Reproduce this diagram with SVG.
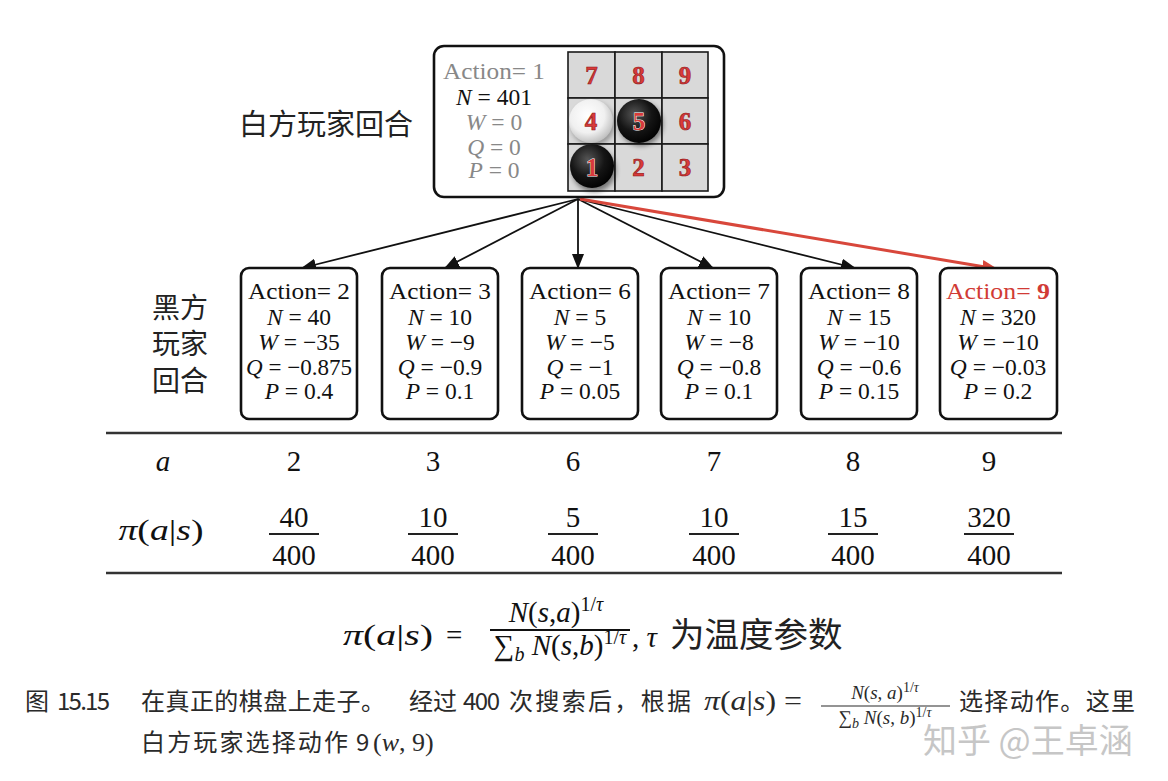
<svg xmlns="http://www.w3.org/2000/svg" width="1168" height="781" viewBox="0 0 1168 781">
<style>
.t{font-family:"Liberation Serif",serif;font-size:23.5px;text-anchor:middle;fill:#111}
.g{fill:#888}
.i{font-style:italic}
.cjk{font-family:"Noto Sans CJK SC",sans-serif;fill:#222}
.cap{font-family:"Noto Sans CJK SC",sans-serif;font-size:24px;fill:#2a2a2a}
.cm{font-family:"Liberation Serif",serif;fill:#2a2a2a}
.box{fill:#fff;stroke:#111;stroke-width:2.6}
.cell{fill:#d9d9d9;stroke:#1a1a1a;stroke-width:1.6}
.bn{font-family:"Liberation Serif",serif;font-weight:bold;font-size:25px;text-anchor:middle;fill:#d83a3a;stroke:#8c1414;stroke-width:0.6}
.bw{stroke:#ffffff;stroke-width:0.9;paint-order:stroke}
.arr{stroke:#111;stroke-width:1.8;fill:none;marker-end:url(#ah)}
.arrR{stroke:#d8473b;stroke-width:3;fill:none;marker-end:url(#ahR)}
.rule{stroke:#333;stroke-width:2.4}
.fl{stroke:#222;stroke-width:2}
.n{font-family:"Liberation Serif",serif;font-size:29px;text-anchor:middle;fill:#111}
</style>
<defs>
<marker id="ah" markerWidth="15" markerHeight="12" refX="14" refY="6" orient="auto" markerUnits="userSpaceOnUse"><path d="M0,0 L15,6 L0,12 z" fill="#111"/></marker>
<marker id="ahR" markerWidth="16" markerHeight="13" refX="15" refY="6.5" orient="auto" markerUnits="userSpaceOnUse"><path d="M0,0 L16,6.5 L0,13 z" fill="#d8473b"/></marker>
<radialGradient id="gw" cx="0.42" cy="0.38" r="0.65"><stop offset="0" stop-color="#ffffff"/><stop offset="0.6" stop-color="#f0f0f0"/><stop offset="1" stop-color="#bcbcbc"/></radialGradient>
<radialGradient id="gb" cx="0.4" cy="0.35" r="0.7"><stop offset="0" stop-color="#555"/><stop offset="0.55" stop-color="#151515"/><stop offset="1" stop-color="#000"/></radialGradient>
<filter id="sh" x="-50%" y="-50%" width="200%" height="200%"><feGaussianBlur stdDeviation="2.5"/></filter>
</defs>

<g id="connectors">
<line class="arr" x1="578" y1="199" x2="302" y2="268"/>
<line class="arr" x1="578" y1="199" x2="445" y2="268"/>
<line class="arr" x1="578" y1="199" x2="578" y2="268"/>
<line class="arr" x1="578" y1="199" x2="713" y2="268"/>
<line class="arr" x1="578" y1="199" x2="855" y2="268"/>
<line class="arrR" x1="580" y1="199" x2="997" y2="269"/>
</g>

<g id="label-white">
<text class="cjk" x="239" y="135" font-size="29">白方玩家回合</text>
</g>

<g id="root">
<rect class="box" x="434" y="46" width="290" height="151" rx="10"/>
<text class="t g" x="494" y="79" textLength="102" lengthAdjust="spacingAndGlyphs">Action= 1</text>
<text class="t" x="494" y="105"><tspan class="i">N</tspan> = 401</text>
<text class="t g" x="494" y="130"><tspan class="i">W</tspan> = 0</text>
<text class="t g" x="494" y="155"><tspan class="i">Q</tspan> = 0</text>
<text class="t g" x="494" y="178"><tspan class="i">P</tspan> = 0</text>
<g id="board">
<rect class="cell" x="568" y="52" width="47" height="46"/>
<rect class="cell" x="615" y="52" width="47" height="46"/>
<rect class="cell" x="662" y="52" width="46" height="46"/>
<rect class="cell" x="568" y="98" width="47" height="46"/>
<rect class="cell" x="615" y="98" width="47" height="46"/>
<rect class="cell" x="662" y="98" width="46" height="46"/>
<rect class="cell" x="568" y="144" width="47" height="47"/>
<rect class="cell" x="615" y="144" width="47" height="47"/>
<rect class="cell" x="662" y="144" width="46" height="47"/>
<circle cx="593" cy="124" r="22" fill="#000" opacity="0.3" filter="url(#sh)"/>
<circle cx="641" cy="124" r="22" fill="#000" opacity="0.45" filter="url(#sh)"/>
<circle cx="594" cy="170" r="22" fill="#000" opacity="0.45" filter="url(#sh)"/>
<circle cx="591" cy="121" r="22" fill="url(#gw)"/>
<circle cx="639" cy="121" r="22" fill="url(#gb)"/>
<circle cx="592" cy="166" r="22" fill="url(#gb)"/>
<text class="bn" x="591.5" y="84">7</text>
<text class="bn" x="638.5" y="84">8</text>
<text class="bn" x="685" y="84">9</text>
<text class="bn" x="591" y="130">4</text>
<text class="bn bw" x="639" y="130">5</text>
<text class="bn" x="685" y="130">6</text>
<text class="bn bw" x="592" y="176">1</text>
<text class="bn" x="638.5" y="176">2</text>
<text class="bn" x="685" y="176">3</text>
</g>
</g>

<g id="label-black">
<text class="cjk" x="152" y="318" font-size="28">黑方</text>
<text class="cjk" x="152" y="354" font-size="28">玩家</text>
<text class="cjk" x="152" y="391" font-size="28">回合</text>
</g>

<g id="a2">
<rect class="box" x="241" y="268" width="116" height="151" rx="8"/>
<text class="t" x="299" y="299" textLength="102" lengthAdjust="spacingAndGlyphs">Action= 2</text>
<text class="t" x="299" y="325"><tspan class="i">N</tspan> = 40</text>
<text class="t" x="299" y="350"><tspan class="i">W</tspan> = −35</text>
<text class="t" x="299" y="375" textLength="106" lengthAdjust="spacingAndGlyphs"><tspan class="i">Q</tspan> = −0.875</text>
<text class="t" x="299" y="399"><tspan class="i">P</tspan> = 0.4</text>
</g>
<g id="a3">
<rect class="box" x="382" y="268" width="116" height="151" rx="8"/>
<text class="t" x="440" y="299" textLength="102" lengthAdjust="spacingAndGlyphs">Action= 3</text>
<text class="t" x="440" y="325"><tspan class="i">N</tspan> = 10</text>
<text class="t" x="440" y="350"><tspan class="i">W</tspan> = −9</text>
<text class="t" x="440" y="375"><tspan class="i">Q</tspan> = −0.9</text>
<text class="t" x="440" y="399"><tspan class="i">P</tspan> = 0.1</text>
</g>
<g id="a6">
<rect class="box" x="522" y="268" width="116" height="151" rx="8"/>
<text class="t" x="580" y="299" textLength="102" lengthAdjust="spacingAndGlyphs">Action= 6</text>
<text class="t" x="580" y="325"><tspan class="i">N</tspan> = 5</text>
<text class="t" x="580" y="350"><tspan class="i">W</tspan> = −5</text>
<text class="t" x="580" y="375"><tspan class="i">Q</tspan> = −1</text>
<text class="t" x="580" y="399"><tspan class="i">P</tspan> = 0.05</text>
</g>
<g id="a7">
<rect class="box" x="661" y="268" width="116" height="151" rx="8"/>
<text class="t" x="719" y="299" textLength="102" lengthAdjust="spacingAndGlyphs">Action= 7</text>
<text class="t" x="719" y="325"><tspan class="i">N</tspan> = 10</text>
<text class="t" x="719" y="350"><tspan class="i">W</tspan> = −8</text>
<text class="t" x="719" y="375"><tspan class="i">Q</tspan> = −0.8</text>
<text class="t" x="719" y="399"><tspan class="i">P</tspan> = 0.1</text>
</g>
<g id="a8">
<rect class="box" x="801" y="268" width="116" height="151" rx="8"/>
<text class="t" x="859" y="299" textLength="102" lengthAdjust="spacingAndGlyphs">Action= 8</text>
<text class="t" x="859" y="325"><tspan class="i">N</tspan> = 15</text>
<text class="t" x="859" y="350"><tspan class="i">W</tspan> = −10</text>
<text class="t" x="859" y="375"><tspan class="i">Q</tspan> = −0.6</text>
<text class="t" x="859" y="399"><tspan class="i">P</tspan> = 0.15</text>
</g>
<g id="a9">
<rect class="box" x="940" y="268" width="117" height="151" rx="8"/>
<text class="t" x="998" y="299" textLength="104" lengthAdjust="spacingAndGlyphs" style="fill:#d13b36">Action= <tspan font-weight="bold">9</tspan></text>
<text class="t" x="998" y="325"><tspan class="i">N</tspan> = 320</text>
<text class="t" x="998" y="350"><tspan class="i">W</tspan> = −10</text>
<text class="t" x="998" y="375"><tspan class="i">Q</tspan> = −0.03</text>
<text class="t" x="998" y="399"><tspan class="i">P</tspan> = 0.2</text>
</g>

<g id="table">
<line class="rule" x1="106" y1="433" x2="1062" y2="433"/>
<line class="rule" x1="106" y1="573" x2="1062" y2="573"/>
<text class="n i" x="163" y="471" font-size="32">a</text>
<text class="n" x="294" y="471">2</text>
<text class="n" x="433" y="471">3</text>
<text class="n" x="573" y="471">6</text>
<text class="n" x="714" y="471">7</text>
<text class="n" x="853" y="471">8</text>
<text class="n" x="989" y="471">9</text>
<text class="n" x="161" y="540" font-size="35" textLength="85" lengthAdjust="spacingAndGlyphs"><tspan class="i">π</tspan>(<tspan class="i">a</tspan>|<tspan class="i">s</tspan>)</text>
<text class="n" x="294" y="527">40</text>
<line class="fl" x1="269" y1="534" x2="319" y2="534"/>
<text class="n" x="294" y="565">400</text>
<text class="n" x="433" y="527">10</text>
<line class="fl" x1="408" y1="534" x2="458" y2="534"/>
<text class="n" x="433" y="565">400</text>
<text class="n" x="573" y="527">5</text>
<line class="fl" x1="548" y1="534" x2="598" y2="534"/>
<text class="n" x="573" y="565">400</text>
<text class="n" x="714" y="527">10</text>
<line class="fl" x1="689" y1="534" x2="739" y2="534"/>
<text class="n" x="714" y="565">400</text>
<text class="n" x="853" y="527">15</text>
<line class="fl" x1="828" y1="534" x2="878" y2="534"/>
<text class="n" x="853" y="565">400</text>
<text class="n" x="989" y="527">320</text>
<line class="fl" x1="964" y1="534" x2="1014" y2="534"/>
<text class="n" x="989" y="565">400</text>
</g>

<g id="formula">
<text class="n" x="343" y="645" font-size="40" style="text-anchor:start" textLength="90" lengthAdjust="spacingAndGlyphs"><tspan class="i">π</tspan>(<tspan class="i">a</tspan>|<tspan class="i">s</tspan>)</text>
<text class="n" x="446" y="645" font-size="40" style="text-anchor:start">=</text>
<text class="n" x="556" y="622" font-size="28"><tspan class="i">N</tspan>(<tspan class="i">s</tspan>,<tspan class="i">a</tspan>)<tspan font-size="20" dy="-11">1/<tspan class="i">τ</tspan></tspan></text>
<line x1="490" y1="630" x2="630" y2="630" stroke="#111" stroke-width="1.8"/>
<text class="n" x="560" y="655" font-size="28">∑<tspan class="i" font-size="20" dy="6">b</tspan><tspan dy="-6"> </tspan><tspan class="i">N</tspan>(<tspan class="i">s</tspan>,<tspan class="i">b</tspan>)<tspan font-size="20" dy="-11">1/<tspan class="i">τ</tspan></tspan></text>
<text class="n" x="632" y="647" font-size="38" style="text-anchor:start">, <tspan class="i">τ</tspan></text>
<text class="cjk" x="670" y="647" font-size="34.5" fill="#111">为温度参数</text>
</g>

<g id="caption">
<text class="cap" x="25" y="710">图</text>
<text class="cap" x="57" y="710" textLength="53">15.15</text>
<text class="cap" x="141" y="710" textLength="244">在真正的棋盘上走子。</text>
<text class="cap" x="409" y="710">经过</text>
<text class="cap" x="463" y="710" textLength="37">400</text>
<text class="cap" x="509" y="710" textLength="182">次搜索后，根据</text>
<text class="cm" x="704" y="710" font-size="27" textLength="98" lengthAdjust="spacingAndGlyphs"><tspan class="i">π</tspan>(<tspan class="i">a</tspan>|<tspan class="i">s</tspan>) =</text>
<text class="cm" x="885" y="699" font-size="19" text-anchor="middle"><tspan class="i">N</tspan>(<tspan class="i">s</tspan>, <tspan class="i">a</tspan>)<tspan font-size="14" dy="-7">1/<tspan class="i">τ</tspan></tspan></text>
<line x1="821" y1="706" x2="950" y2="706" stroke="#2a2a2a" stroke-width="1.1"/>
<text class="cm" x="885" y="724" font-size="19" text-anchor="middle">∑<tspan class="i" font-size="14" dy="4">b</tspan><tspan dy="-4"> </tspan><tspan class="i">N</tspan>(<tspan class="i">s</tspan>, <tspan class="i">b</tspan>)<tspan font-size="14" dy="-7">1/<tspan class="i">τ</tspan></tspan></text>
<text class="cap" x="959" y="710" textLength="176">选择动作。这里</text>
<text class="cap" x="141" y="751" textLength="207">白方玩家选择动作</text>
<text class="cap" x="356" y="751">9</text>
<text class="cm" x="373" y="751" font-size="26">(<tspan class="i">w</tspan>, 9)</text>
</g>

<g id="watermark">
<text x="923" y="753" font-family="Noto Sans CJK SC, sans-serif" font-size="34" fill="#c6c6c6">知乎 @王卓涵</text>
</g>
</svg>
